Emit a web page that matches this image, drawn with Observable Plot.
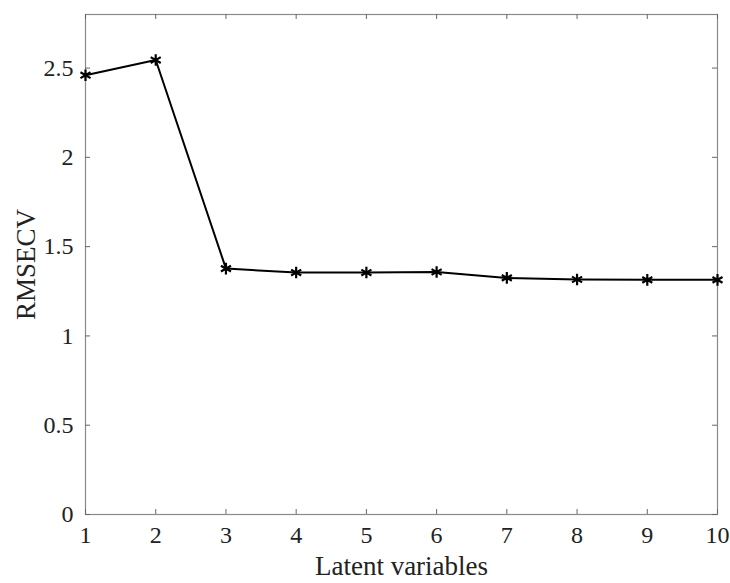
<!DOCTYPE html>
<html><head><meta charset="utf-8">
<script src="https://cdn.jsdelivr.net/npm/d3@7"></script>
<script src="https://cdn.jsdelivr.net/npm/@observablehq/plot@0.6"></script>
<style>
body{margin:0;background:#fff}
svg g[aria-label="x-axis tick label"] text, svg g[aria-label="y-axis tick label"] text{font-size:24px !important}
svg g[aria-label="x-axis label"] text, svg g[aria-label="y-axis label"] text{font-size:27px !important}
</style>
</head><body><div id="chart"></div>
<script>
const latent = [1,2,3,4,5,6,7,8,9,10];
const rmsecv = [2.46,2.545,1.377,1.355,1.355,1.358,1.325,1.316,1.314,1.314];
const xTicks = [1,2,3,4,5,6,7,8,9,10];
const yTicks = [0,0.5,1,1.5,2,2.5];

const W = 730, H = 583, mL = 85, mR = 13, mT = 14, mB = 69;
const pw = W - mL - mR, ph = H - mT - mB, tl = 5;
const data = latent.map((x,i)=>({x, y: rmsecv[i]}));

const chart = Plot.plot({
  width: W, height: H,
  marginLeft: mL, marginRight: mR, marginTop: mT, marginBottom: mB,
  style: {fontFamily: "'Liberation Serif', serif", fontSize: "24px", color: "#222", background: "#fff"},
  x: {domain: [1,10]},
  y: {domain: [0,2.8]},
  marks: [
    Plot.frame({stroke: "#8a8a8a", strokeWidth: 1.2}),
    Plot.tickX(xTicks, {x: d=>d, insetTop: ph - tl, stroke: "#666"}),
    Plot.tickX(xTicks, {x: d=>d, insetBottom: ph - tl, stroke: "#666"}),
    Plot.tickY(yTicks, {y: d=>d, insetRight: pw - tl, stroke: "#666"}),
    Plot.tickY(yTicks, {y: d=>d, insetLeft: pw - tl, stroke: "#666"}),
    Plot.axisX(xTicks, {tickSize: 0, tickPadding: 11, fontSize: 24, label: null, tickFormat: d=>String(d)}),
    Plot.axisY(yTicks, {tickSize: 0, tickPadding: 12, fontSize: 24, label: null, tickFormat: d=>String(d)}),
    Plot.axisX({tickSize: 0, ticks: [], label: "Latent variables", fontSize: 27, labelAnchor: "center", labelArrow: "none", labelOffset: 60}),
    Plot.axisY({tickSize: 0, ticks: [], label: "RMSECV", fontSize: 27, labelAnchor: "center", labelArrow: "none", labelOffset: 70}),
    Plot.line(data, {x: "x", y: "y", stroke: "#000", strokeWidth: 2}),
    Plot.dot(data, {x: "x", y: "y", symbol: "asterisk", r: 5.5, stroke: "#000", strokeWidth: 2.2})
  ]
});
document.getElementById("chart").appendChild(chart);
</script></body></html>
